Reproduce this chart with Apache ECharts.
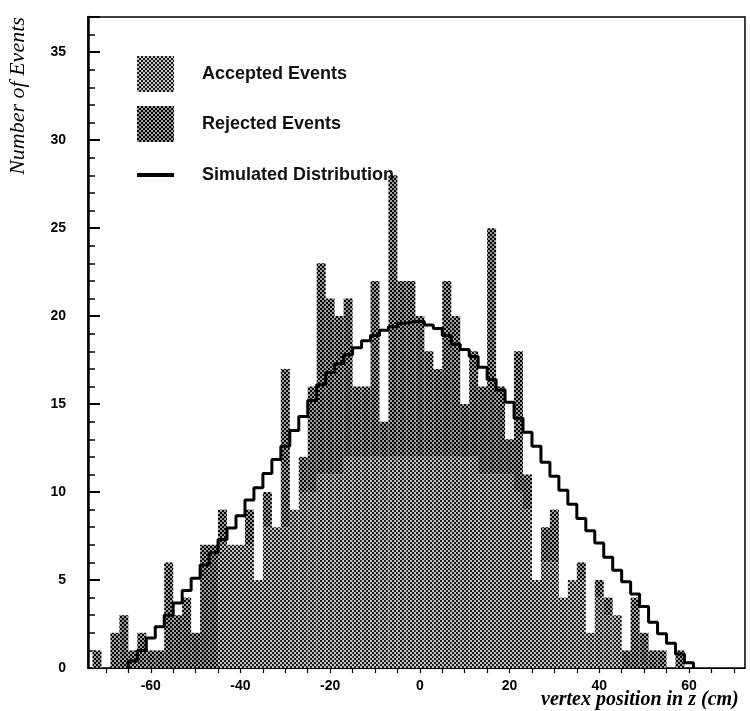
<!DOCTYPE html>
<html>
<head>
<meta charset="utf-8">
<script src="https://cdn.jsdelivr.net/npm/echarts@6/dist/echarts.min.js"></script>
<style>
    html, body { margin: 0; padding: 0; background: #fff; }
    #chart { width: 750px; height: 711px; }
</style>
</head>
<body>
<div id="chart"></div>
<script>
// bin centres (cm), 2 cm wide bins
var binCenters = [-72, -70, -68, -66, -64, -62, -60, -58, -56, -54, -52, -50, -48, -46, -44, -42, -40, -38, -36, -34,
    -32, -30, -28, -26, -24, -22, -20, -18, -16, -14, -12, -10, -8, -6, -4, -2, 0, 2, 4, 6,
    8, 10, 12, 14, 16, 18, 20, 22, 24, 26, 28, 30, 32, 34, 36, 38, 40, 42, 44, 46,
    48, 50, 52, 54, 56, 58, 60];

// all events per bin (accepted + rejected)
var totalEvents = [1, 0, 2, 3, 1, 2, 1, 1, 6, 3, 4, 2, 7, 7, 9, 7, 7, 9, 5, 10,
    8, 17, 9, 12, 16, 23, 21, 20, 21, 16, 16, 22, 14, 28, 22, 22, 20, 18, 17, 22,
    20, 15, 18, 16, 25, 16, 13, 18, 11, 5, 8, 9, 4, 5, 6, 2, 5, 4, 3, 1,
    4, 2, 1, 1, 0, 1, 0];

// accepted part of each bin (lighter pattern)
var acceptedEvents = [0, 0, 0, 0, 0, 0, 0, 0, 0, 0, 0, 0, 0, 0, 7, 7, 7, 7, 5, 8,
    8, 8, 9, 10, 10, 11, 11, 11, 12, 12, 12, 12, 12, 12, 12, 12, 12, 12, 12, 12,
    12, 12, 12, 11, 11, 11, 11, 10, 9, 5, 6, 6, 4, 5, 5, 2, 4, 3, 3, 0,
    0, 0, 0, 0, 0, 0, 0];

// simulated distribution, one value per bin
var simCenters = [-64, -62, -60, -58, -56, -54, -52, -50, -48, -46, -44, -42, -40, -38, -36, -34, -32, -30, -28, -26,
    -24, -22, -20, -18, -16, -14, -12, -10, -8, -6, -4, -2, 0, 2, 4, 6, 8, 10, 12, 14,
    16, 18, 20, 22, 24, 26, 28, 30, 32, 34, 36, 38, 40, 42, 44, 46, 48, 50, 52, 54,
    56, 58, 60];
var simValues = [0.4, 1.0, 1.7, 2.35, 3.0, 3.7, 4.4, 5.1, 5.85, 6.55, 7.3, 7.95, 8.65, 9.55, 10.25, 11.05, 11.85, 12.6, 13.5, 14.3,
    15.2, 16.1, 16.8, 17.3, 17.8, 18.2, 18.6, 18.9, 19.2, 19.4, 19.6, 19.7, 19.7, 19.5, 19.3, 18.9, 18.4, 18.1, 17.7, 17.1,
    16.4, 15.8, 15.1, 14.2, 13.4, 12.6, 11.7, 10.9, 10.1, 9.3, 8.5, 7.8, 7.1, 6.3, 5.55, 4.9, 4.2, 3.5, 2.6, 1.95,
    1.4, 0.8, 0.3];

var xLabelValues = [-60, -40, -20, 0, 20, 40, 60];
var xTickValues = [-70, -65, -60, -55, -50, -45, -40, -35, -30, -25, -20, -15, -10, -5, 0, 5, 10, 15, 20, 25, 30, 35, 40, 45, 50, 55, 60, 65, 70];

var binWidth = 2;

//网点图案
function makePattern(bg, fg) {
    var cv = document.createElement('canvas');
    cv.width = 4;
    cv.height = 4;
    var ctx = cv.getContext('2d');
    ctx.fillStyle = bg;
    ctx.fillRect(0, 0, 4, 4);
    ctx.fillStyle = fg;
    ctx.fillRect(0, 0, 2, 2);
    ctx.fillRect(2, 2, 2, 2);
    return {image: cv, repeat: 'repeat'};
}

function renderBin(params, api) {
    var c = api.value(0), lo = api.value(1), hi = api.value(2);
    if (hi <= lo) {
        return;
    }
    var p0 = api.coord([c - binWidth / 2, hi]);
    var p1 = api.coord([c + binWidth / 2, lo]);
    return {
        type: 'rect',
        shape: {x: p0[0], y: p0[1], width: p1[0] - p0[0], height: p1[1] - p0[1]},
        style: api.style()
    };
}

var acceptedData = binCenters.map(function (c, i) {
    return [c, 0, acceptedEvents[i]];
});
var rejectedData = binCenters.map(function (c, i) {
    return [c, acceptedEvents[i], totalEvents[i]];
});

// step outline from bin edges
var simLine = [[simCenters[0] - binWidth / 2, 0]];
simCenters.forEach(function (c, i) {
    simLine.push([c - binWidth / 2, simValues[i]]);
    simLine.push([c + binWidth / 2, simValues[i]]);
});
simLine.push([simCenters[simCenters.length - 1] + binWidth / 2, 0]);

var acceptedPattern = makePattern('#c2c2c2', '#1a1a1a');
var rejectedPattern = makePattern('#9c9c9c', '#000000');

var tickFont = {
    color: '#000',
    fontFamily: '"Liberation Sans", Arial, sans-serif',
    fontWeight: 'bold',
    fontSize: 14
};

var myChart = echarts.init(document.getElementById('chart'));

var option = {
    animation: false,
    backgroundColor: '#fff',
    grid: {
        left: 88,
        right: 5,
        top: 17,
        bottom: 43,
        show: true,
        borderColor: '#000',
        borderWidth: 1.5,
        outerBoundsMode: 'none'
    },
    legend: {
        orient: 'vertical',
        left: 132,
        top: 51,
        itemWidth: 37,
        itemHeight: 36,
        itemGap: 14,
        selectedMode: false,
        textStyle: {
            color: '#111',
            fontFamily: '"Liberation Sans", Arial, sans-serif',
            fontWeight: 'bold',
            fontSize: 18,
            padding: [0, 0, 0, 23]
        },
        data: [
            {name: 'Accepted Events', icon: 'rect'},
            {name: 'Rejected Events', icon: 'rect'},
            {name: 'Simulated Distribution', icon: 'path://M0,0H37V4H0Z', textStyle: {lineHeight: 38}}
        ]
    },
    xAxis: {
        type: 'value',
        min: -74,
        max: 72.5,
        splitLine: {show: false},
        axisLine: {show: true, onZero: false, lineStyle: {color: '#000', width: 1}},
        axisTick: {
            show: true,
            length: 5,
            customValues: xTickValues,
            lineStyle: {color: '#000', width: 1.2}
        },
        axisLabel: Object.assign({
            customValues: xLabelValues,
            margin: 11
        }, tickFont)
    },
    yAxis: [
        {
            type: 'value',
            min: 0,
            max: 37,
            interval: 5,
            splitLine: {show: false},
            axisLine: {show: true, onZero: false, lineStyle: {color: '#000', width: 2.5}},
            axisTick: {show: true, inside: true, length: 12, lineStyle: {color: '#000', width: 2}},
            axisLabel: Object.assign({
                margin: 22,
                formatter: function (v) {
                    return v % 5 === 0 ? v : '';
                }
            }, tickFont)
        },
        {
            type: 'value',
            min: 0,
            max: 37,
            interval: 1,
            position: 'left',
            offset: 0,
            splitLine: {show: false},
            axisLine: {show: false, onZero: false},
            axisLabel: {show: false},
            axisTick: {show: true, inside: true, length: 7, lineStyle: {color: '#000', width: 1.5}}
        }
    ],
    series: [
        {
            name: 'Accepted Events',
            type: 'custom',
            renderItem: renderBin,
            encode: {x: 0, y: [1, 2]},
            itemStyle: {color: acceptedPattern},
            data: acceptedData,
            z: 2
        },
        {
            name: 'Rejected Events',
            type: 'custom',
            renderItem: renderBin,
            encode: {x: 0, y: [1, 2]},
            itemStyle: {color: rejectedPattern},
            data: rejectedData,
            z: 2
        },
        {
            name: 'Simulated Distribution',
            type: 'line',
            data: simLine,
            showSymbol: false,
            symbol: 'none',
            itemStyle: {color: '#000'},
            lineStyle: {color: '#000', width: 3},
            z: 5
        }
    ],
    graphic: [
        {
            type: 'text',
            x: 18,
            y: 96,
            rotation: Math.PI / 2,
            style: {
                text: 'Number of Events',
                font: 'italic 22px "Liberation Serif", serif',
                fill: '#000',
                align: 'center',
                verticalAlign: 'middle'
            }
        },
        {
            type: 'text',
            x: 541,
            y: 700,
            style: {
                text: 'vertex position in z (cm)',
                font: 'italic bold 20px "Liberation Serif", serif',
                fill: '#000',
                align: 'left',
                verticalAlign: 'middle'
            }
        }
    ]
};

myChart.setOption(option);
</script>
</body>
</html>
